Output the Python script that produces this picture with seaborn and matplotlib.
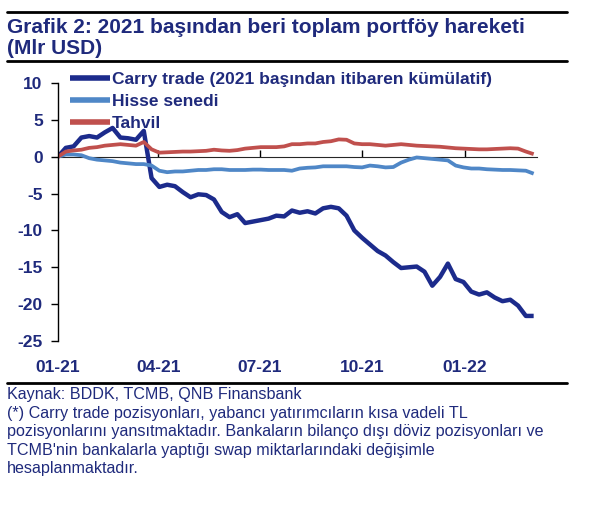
import pandas as pd
import numpy as np
import matplotlib
matplotlib.use("Agg")
import matplotlib.pyplot as plt
import matplotlib.dates as mdates
import seaborn as sns

# ================================================
# Data (weekly, cumulative since start of 2021, bn USD)
# ================================================
dates = pd.date_range("2021-01-01", periods=62, freq="7D")

carry_trade = [0.0, 1.2, 1.4, 2.6, 2.8, 2.6, 3.3, 3.9, 2.6, 2.5,
               2.3, 3.5, -2.9, -4.1, -3.8, -4.0, -4.8, -5.5, -5.1, -5.2,
               -5.8, -7.5, -8.2, -7.8, -9.0, -8.8, -8.6, -8.4, -8.0, -8.1,
               -7.3, -7.6, -7.4, -7.7, -7.0, -6.8, -7.0, -8.0, -10.0, -11.0,
               -11.9, -12.8, -13.4, -14.3, -15.1, -15.0, -14.9, -15.6, -17.5, -16.3,
               -14.5, -16.6, -17.0, -18.3, -18.7, -18.4, -19.1, -19.6, -19.4, -20.2,
               -21.6, -21.6]

hisse = [0.0, 0.3, 0.3, 0.2, -0.2, -0.4, -0.5, -0.6, -0.8, -0.9,
         -1.0, -1.0, -1.2, -1.9, -2.1, -2.0, -2.0, -1.9, -1.8, -1.8,
         -1.7, -1.7, -1.8, -1.8, -1.8, -1.75, -1.75, -1.8, -1.8, -1.8,
         -1.9, -1.6, -1.5, -1.45, -1.3, -1.3, -1.3, -1.3, -1.4, -1.45,
         -1.2, -1.3, -1.45, -1.4, -0.8, -0.4, -0.1, -0.2, -0.3, -0.4,
         -0.5, -1.2, -1.45, -1.6, -1.6, -1.7, -1.75, -1.8, -1.8, -1.85,
         -1.9, -2.3]

tahvil = [0.0, 0.7, 0.85, 0.95, 1.2, 1.3, 1.5, 1.6, 1.7, 1.6,
          1.5, 2.0, 1.0, 0.55, 0.6, 0.65, 0.7, 0.7, 0.75, 0.8,
          0.95, 0.85, 0.8, 0.9, 1.1, 1.2, 1.3, 1.3, 1.3, 1.4,
          1.7, 1.7, 1.8, 1.8, 2.0, 2.1, 2.35, 2.3, 1.8, 1.7,
          1.7, 1.6, 1.5, 1.6, 1.7, 1.6, 1.5, 1.45, 1.4, 1.35,
          1.25, 1.15, 1.1, 1.05, 1.0, 1.0, 1.05, 1.1, 1.15, 1.1,
          0.7, 0.35]

series_names = ["Carry trade (2021 başından itibaren kümülatif)", "Hisse senedi", "Tahvil"]
series_colors = ["#1c2b8c", "#4f87c7", "#c0504d"]
y_ticks = [10, 5, 0, -5, -10, -15, -20, -25]
x_ticks = pd.to_datetime(["2021-01-01", "2021-04-01", "2021-07-01", "2021-10-01", "2022-01-01"])

title = "Grafik 2: 2021 başından beri toplam portföy hareketi\n(Mlr USD)"
footnote = ("Kaynak: BDDK, TCMB, QNB Finansbank\n"
            "(*) Carry trade pozisyonları, yabancı yatırımcıların kısa vadeli TL\n"
            "pozisyonlarını yansıtmaktadır. Bankaların bilanço dışı döviz pozisyonları ve\n"
            "TCMB'nin bankalarla yaptığı swap miktarlarındaki değişimle\n"
            "hesaplanmaktadır.")

# long-form table for seaborn
df = pd.DataFrame({"Tarih": dates, series_names[0]: carry_trade,
                   series_names[1]: hisse, series_names[2]: tahvil})
long_df = df.melt(id_vars="Tarih", var_name="Seri", value_name="Deger")

# ================================================
# Plot
# ================================================
sns.set_style("white")
plt.rcParams["font.family"] = ["Liberation Sans", "DejaVu Sans"]
plt.rcParams["axes.unicode_minus"] = False
navy = "#1f2a7c"

W, H = 614, 521
fig = plt.figure(figsize=(W / 100, H / 100), dpi=100)
ax = fig.add_axes([58 / W, 1 - 341 / H, 479 / W, 258 / H])

sns.lineplot(data=long_df, x="Tarih", y="Deger", hue="Seri",
             palette=dict(zip(series_names, series_colors)), ax=ax)
for line, lw in zip(ax.get_lines(), [3.2, 2.7, 2.7]):
    line.set_linewidth(lw)
    line.set_solid_capstyle("butt")

ax.set_ylim(-25, 10)
ax.set_xlim(pd.Timestamp("2021-01-01"), pd.Timestamp("2022-03-07"))
ax.set_yticks(y_ticks)
ax.set_xticks(x_ticks)
ax.xaxis.set_major_formatter(mdates.DateFormatter("%m-%y"))
ax.set_xlabel("")
ax.set_ylabel("")

for s in ["top", "right", "bottom"]:
    ax.spines[s].set_visible(False)
ax.spines["left"].set_color("black")
ax.spines["left"].set_linewidth(1.0)
ax.tick_params(axis="y", direction="out", length=5, width=1, color="black",
               labelsize=12.5, labelcolor=navy, pad=6, left=True)
ax.tick_params(axis="x", length=0, labelsize=12.5, labelcolor=navy, pad=14)
for lbl in ax.get_xticklabels() + ax.get_yticklabels():
    lbl.set_fontweight("bold")

# zero line with quarter ticks
sec = ax.secondary_xaxis(25 / 35)
sec.set_xticks(x_ticks[1:])
sec.tick_params(axis="x", direction="out", length=5, width=1, color="black", labelbottom=False)
sec.set_xticklabels([])
sec.spines["bottom"].set_linewidth(1.0)
sec.spines["bottom"].set_color("black")

leg = ax.legend(loc="upper left", bbox_to_anchor=(61 / W, 1 - 63 / H),
                bbox_transform=fig.transFigure, frameon=False, borderpad=0,
                handlelength=2.3, handletextpad=0.15, labelspacing=0.4,
                prop={"weight": "bold", "size": 12.5})
for t in leg.get_texts():
    t.set_color(navy)
for h in leg.get_lines():
    h.set_linewidth(4)
    h.set_solid_capstyle("butt")

# title, rules and footnote
fig.text(7 / W, 1 - 18 / H, title, ha="left", va="top", fontsize=15,
         fontweight="bold", color=navy, linespacing=1.13)
for yy in [12, 61, 383]:
    fig.add_artist(plt.Line2D([7 / W, 567 / W], [1 - yy / H, 1 - yy / H],
                              color="black", linewidth=2))
fig.text(7 / W, 1 - 387 / H, footnote, ha="left", va="top", fontsize=11.6,
         color=navy, linespacing=1.3)

fig.savefig("out.png", dpi=100)
